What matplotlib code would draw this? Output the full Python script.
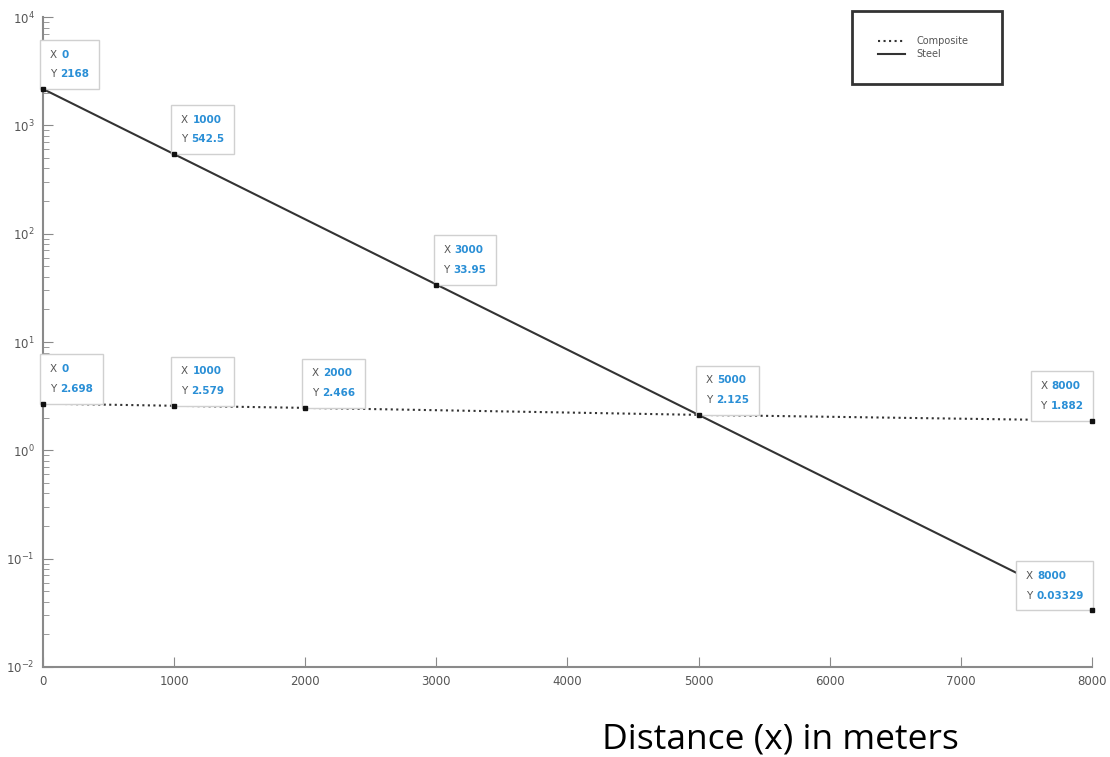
import matplotlib.pyplot as plt
from matplotlib.offsetbox import AnnotationBbox, TextArea, HPacker, VPacker

# Data
steel_x = [0, 1000, 3000, 5000, 8000]
steel_y = [2168, 542.5, 33.95, 2.125, 0.03329]
composite_x = [0, 1000, 2000, 5000, 8000]
composite_y = [2.698, 2.579, 2.466, 2.125, 1.882]

# datatips: (x, y, x label, y label, side)
tips = [
    (0, 2168, "0", "2168", "right"),
    (1000, 542.5, "1000", "542.5", "right"),
    (3000, 33.95, "3000", "33.95", "right"),
    (8000, 0.03329, "8000", "0.03329", "left"),
    (0, 2.698, "0", "2.698", "right"),
    (1000, 2.579, "1000", "2.579", "right"),
    (2000, 2.466, "2000", "2.466", "right"),
    (5000, 2.125, "5000", "2.125", "right"),
    (8000, 1.882, "8000", "1.882", "left"),
]

xticks = [0, 1000, 2000, 3000, 4000, 5000, 6000, 7000, 8000]

fig = plt.figure(figsize=(11.1, 7.57), dpi=100)
ax = fig.add_axes([0.0387, 0.1189, 0.9451, 0.8586])

line_col = "#333333"
axis_col = "#8a8a8a"
tip_blue = "#2a8fd6"

ax.plot(composite_x, composite_y, ":", color=line_col, lw=1.5, label="Composite", zorder=2)
ax.plot(steel_x, steel_y, "-", color=line_col, lw=1.5, label="Steel", zorder=2)

ax.set_yscale("log")
ax.set_xlim(0, 8000)
ax.set_ylim(1e-2, 1e4)
ax.set_xticks(xticks)
ax.set_xticklabels([str(v) for v in xticks])

for side in ["top", "right"]:
    ax.spines[side].set_visible(False)
for side in ["left", "bottom"]:
    ax.spines[side].set_color(axis_col)
    ax.spines[side].set_linewidth(1.5)

ax.tick_params(axis="both", which="major", direction="in", length=7,
               color=axis_col, labelcolor="#555555", labelsize=8.5, pad=6)
ax.tick_params(axis="y", which="minor", direction="in", length=4, color=axis_col)

# datatips
for x, y, xs, ys, side in tips:
    ax.plot(x, y, "s", color="#111111", ms=2.5, zorder=6, clip_on=False)
    row1 = HPacker(children=[TextArea("X", textprops=dict(color="#555555", size=7.5)),
                             TextArea(xs, textprops=dict(color=tip_blue, size=7.5, weight="bold"))],
                   pad=0, sep=3)
    row2 = HPacker(children=[TextArea("Y", textprops=dict(color="#555555", size=7.5)),
                             TextArea(ys, textprops=dict(color=tip_blue, size=7.5, weight="bold"))],
                   pad=0, sep=3)
    box = VPacker(children=[row1, row2], pad=0, sep=7)
    if side == "right":
        off, align = (5, 7), (0, 0)
    else:
        off, align = (-6, 7), (1, 0)
    ab = AnnotationBbox(box, (x, y), xybox=off, boxcoords="offset points",
                        box_alignment=align, frameon=True, pad=0.7,
                        bboxprops=dict(edgecolor="#d0d0d0", facecolor="white", lw=1),
                        zorder=4, annotation_clip=False)
    ax.add_artist(ab)

leg = ax.legend(loc="upper left", bbox_to_anchor=(0.767, 1.017, 0.152, 0.0),
                mode="expand", fontsize=7, frameon=True, fancybox=False,
                borderpad=2.6, handlelength=2.8, handletextpad=1.2, labelspacing=0.3)
leg.get_frame().set_edgecolor("black")
leg.get_frame().set_linewidth(2)
for t in leg.get_texts():
    t.set_color("#555555")

fig.text(0.703, 0.0225, "Distance (x) in meters", ha="center", va="center",
         fontsize=25.5, family="Open Sans", color="black")

fig.savefig("out.png", dpi=100)
